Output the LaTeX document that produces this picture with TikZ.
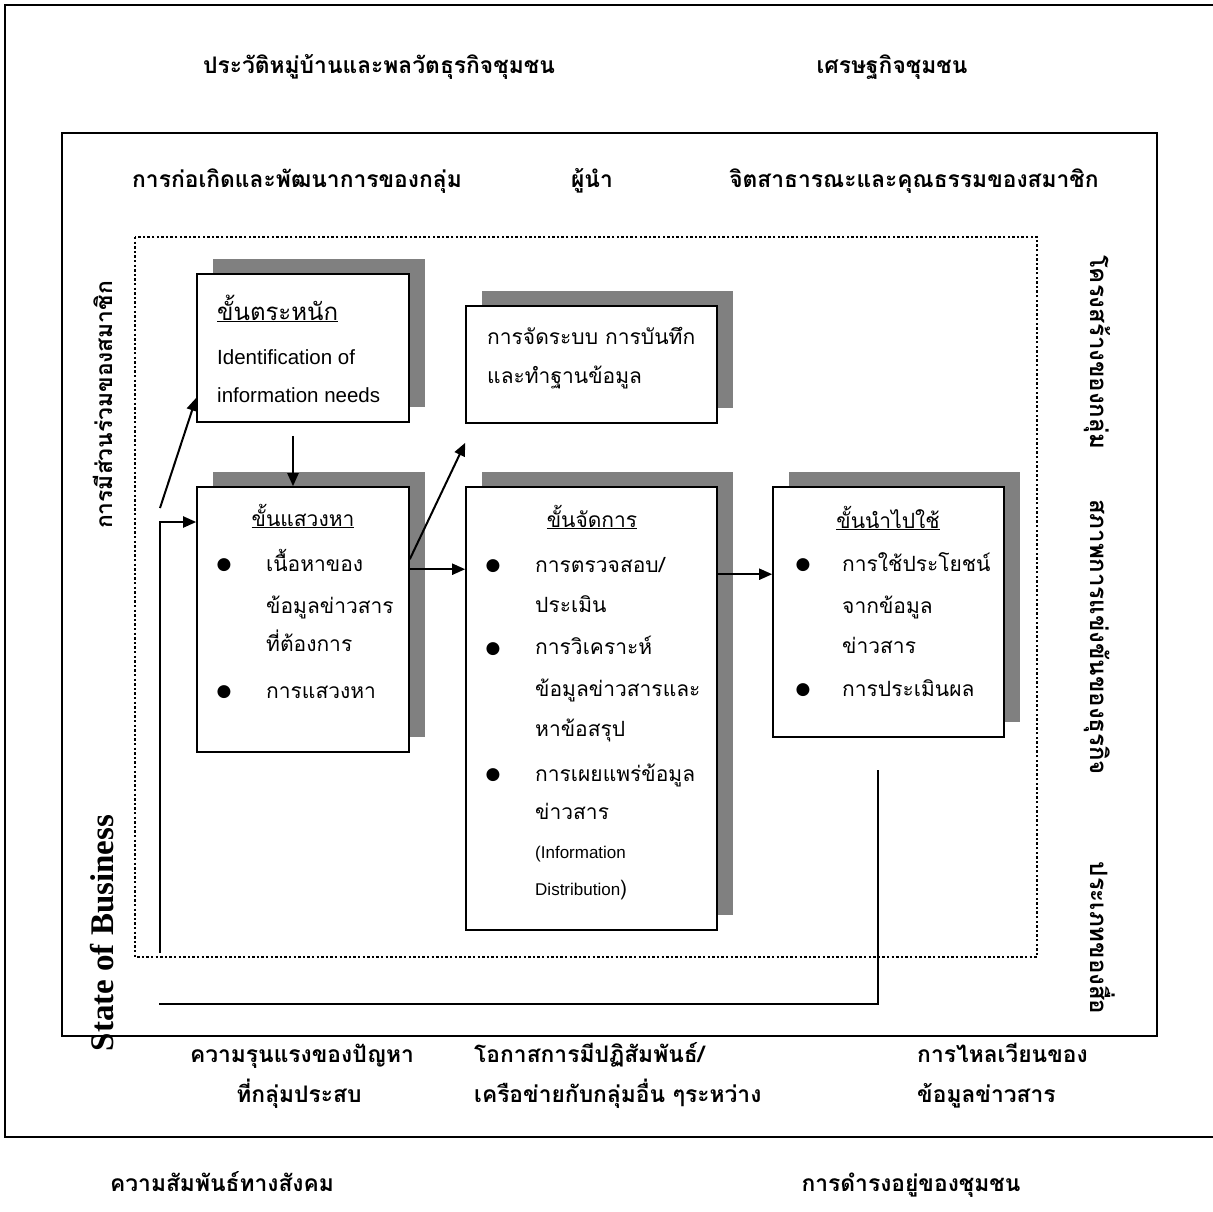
\documentclass[tikz,border=0pt]{standalone}
\usepackage{fontspec}
\usetikzlibrary{arrows.meta,shadows,calc}
\newfontfamily\thaifont[Script=Thai]{Loma}
\newfontfamily\arialfont{Liberation Sans}
\newfontfamily\timesfont{Liberation Serif}
\newfontfamily\symfont{DejaVu Sans}

\tikzset{
  frameline/.style={line width=2pt},
  stagebox/.style={draw, line width=1.6pt, fill=white, inner sep=0pt,
    drop shadow={shadow xshift=16pt, shadow yshift=15pt, fill=black!50, opacity=1}},
  headtext/.style={font=\thaifont\bfseries\fontsize{22.8}{27}\selectfont, inner sep=0pt, anchor=base},
  sidetext/.style={font=\thaifont\bfseries\fontsize{24}{28}\selectfont, inner sep=0pt, anchor=base, rotate=-90},
  boxtext/.style={font=\thaifont\fontsize{21}{25}\selectfont, inner sep=0pt, anchor=base west},
  titletext/.style={font=\thaifont\fontsize{21}{25}\selectfont, inner sep=0pt, anchor=base},
  engtext/.style={font=\arialfont\fontsize{20.5}{24}\selectfont, inner sep=0pt, anchor=base west},
  smalleng/.style={font=\arialfont\fontsize{17}{20}\selectfont, inner sep=0pt, anchor=base west},
  bulletmark/.style={font=\symfont\fontsize{17}{17}\selectfont, inner sep=0pt},
  flowarrow/.style={line width=2pt, -{Triangle[length=13pt,width=11pt]}},
  plainlink/.style={line width=2pt}
}

\begin{document}
\begin{tikzpicture}[x=1pt, y=-1pt]
\useasboundingbox (0,0) rectangle (1213,1211);
\fill[white] (0,0) rectangle (1213,1211);

% outer frame (open on the right) and the inner frames
\draw[frameline] (1214,5) -- (5,5) -- (5,1137) -- (1214,1137);
\draw[frameline] (62,133) rectangle (1157,1036);
\draw[line width=2.6pt, dash pattern=on 2.4pt off 2.2pt] (135,237) rectangle (1037,957);

% context labels around the frames
\node[headtext] (hist) at (379,73) {ประวัติหมู่บ้านและพลวัตธุรกิจชุมชน};
\node[headtext] (econ) at (892,73) {เศรษฐกิจชุมชน};
\node[headtext] (origin) at (297,187) {การก่อเกิดและพัฒนาการของกลุ่ม};
\node[headtext] (leader) at (592,187) {ผู้นำ};
\node[headtext] (ethic) at (914,187) {จิตสาธารณะและคุณธรรมของสมาชิก};
\node[headtext, rotate=90] (part) at (112,405) {การมีส่วนร่วมของสมาชิก};
\node[font=\timesfont\bfseries\fontsize{33}{36}\selectfont, inner sep=0pt, anchor=base, rotate=90] (state) at (113,933) {State of Business};
\node[sidetext] (struct) at (1090,352) {โครงสร้างของกลุ่ม};
\node[sidetext] (compete) at (1090,637) {สภาพการแข่งขันของธุรกิจ};
\node[sidetext] (media) at (1090,938) {ประเภทของสื่อ};
\node[headtext] (sev1) at (302,1062) {ความรุนแรงของปัญหา};
\node[headtext] (sev2) at (299,1102) {ที่กลุ่มประสบ};
\node[headtext, anchor=base west] (net1) at (474,1062) {โอกาสการมีปฏิสัมพันธ์/};
\node[headtext, anchor=base west] (net2) at (474,1102) {เครือข่ายกับกลุ่มอื่น ๆระหว่าง};
\node[headtext, anchor=base west] (flow1) at (917,1062) {การไหลเวียนของ};
\node[headtext, anchor=base west] (flow2) at (917,1102) {ข้อมูลข่าวสาร};
\node[headtext] (social) at (222,1191) {ความสัมพันธ์ทางสังคม};
\node[headtext] (exist) at (911,1191) {การดำรงอยู่ของชุมชน};

% stage boxes
\node[stagebox, minimum width=212pt, minimum height=148pt] (aware) at (303,348) {};
\node[stagebox, minimum width=212pt, minimum height=265pt] (seek) at (303,619.5) {};
\node[stagebox, minimum width=251pt, minimum height=117pt] (store) at (591.5,364.5) {};
\node[stagebox, minimum width=251pt, minimum height=443pt] (manage) at (591.5,708.5) {};
\node[stagebox, minimum width=231pt, minimum height=250pt] (use) at (888.5,612) {};

% awareness
\node[boxtext, font=\thaifont\fontsize{24}{28}\selectfont] (aw0) at (217,320) {\underline{ขั้นตระหนัก}};
\node[engtext] (aw1) at (217,364) {Identification of};
\node[engtext] (aw2) at (217,402) {information needs};

% seeking
\node[titletext] (sk0) at (303,526) {\underline{ขั้นแสวงหา}};
\node[bulletmark] (sb1) at (224,565) {●};
\node[bulletmark] (sb2) at (224,692) {●};
\node[boxtext] (sk1) at (266,571) {เนื้อหาของ};
\node[boxtext] (sk2) at (266,613) {ข้อมูลข่าวสาร};
\node[boxtext] (sk3) at (266,651) {ที่ต้องการ};
\node[boxtext] (sk4) at (266,698) {การแสวงหา};

% storing
\node[boxtext] (st1) at (487,344) {การจัดระบบ การบันทึก};
\node[boxtext] (st2) at (487,383) {และทำฐานข้อมูล};

% managing
\node[titletext] (mg0) at (592,527) {\underline{ขั้นจัดการ}};
\node[bulletmark] (mb1) at (493,566) {●};
\node[bulletmark] (mb2) at (493,649) {●};
\node[bulletmark] (mb3) at (493,775) {●};
\node[boxtext] (mg1) at (535,572) {การตรวจสอบ/};
\node[boxtext] (mg2) at (535,612) {ประเมิน};
\node[boxtext] (mg3) at (535,654) {การวิเคราะห์};
\node[boxtext] (mg4) at (535,696) {ข้อมูลข่าวสารและ};
\node[boxtext] (mg5) at (535,736) {หาข้อสรุป};
\node[boxtext] (mg6) at (535,781) {การเผยแพร่ข้อมูล};
\node[boxtext] (mg7) at (535,819) {ข่าวสาร};
\node[smalleng] (mg8) at (535,858) {(Information};
\node[boxtext] (mg9) at (535,895) {{\arialfont\fontsize{17}{20}\selectfont Distribution})};

% using
\node[titletext] (us0) at (888,528) {\underline{ขั้นนำไปใช้}};
\node[bulletmark] (ub1) at (803,565) {●};
\node[bulletmark] (ub2) at (803,690) {●};
\node[boxtext] (us1) at (842,571) {การใช้ประโยชน์};
\node[boxtext] (us2) at (842,613) {จากข้อมูล};
\node[boxtext] (us3) at (842,653) {ข่าวสาร};
\node[boxtext] (us4) at (842,696) {การประเมินผล};

% connectors
\coordinate (feedlow) at (160,953);
\coordinate (feedcorner) at (160,522);
\coordinate (feedstart) at (160,508);
\draw[flowarrow] (feedlow) -- (feedcorner) -- (feedcorner -| seek.west);
\draw[flowarrow] (feedstart) -- ($(aware.south west)+(0,-25)$);
\draw[flowarrow] ($(aware.south)+(-10,13)$) -- ($(seek.north)+(-10,0)$);
\draw[flowarrow] ($(seek.north east)+(0,73)$) -- ($(store.south west)+(0,19)$);
\draw[flowarrow] ($(seek.north east)+(0,83)$) -- ($(manage.north west)+(0,83)$);
\draw[flowarrow] ($(manage.north east)+(0,88)$) -- ($(use.north west)+(0,88)$);
\coordinate (backtop) at (878,770);
\coordinate (backcorner) at (878,1004);
\coordinate (backend) at (159,1004);
\draw[plainlink] (backtop) -- (backcorner) -- (backend);
\end{tikzpicture}
\end{document}
